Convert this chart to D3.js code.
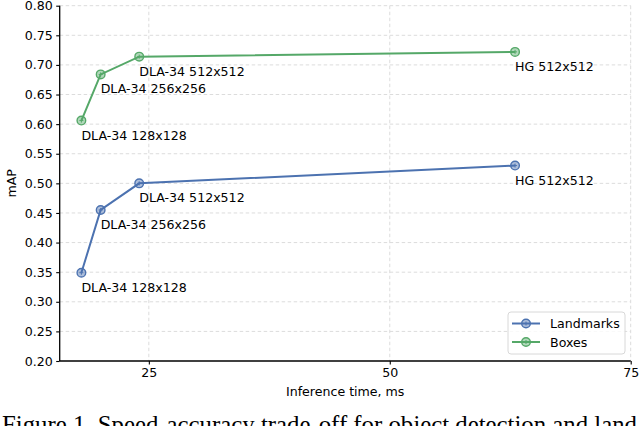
<!DOCTYPE html>
<html>
<head>
<meta charset="utf-8">
<script src="https://cdn.jsdelivr.net/npm/d3@7"></script>
<style>
  html, body { margin: 0; padding: 0; background: #fff; }
  svg { display: block; }
</style>
</head>
<body>
<svg id="chart" width="640" height="426"></svg>
<script>
// ---- data ----
const seriesNames = ["Landmarks", "Boxes"];
const models = ["DLA-34 128x128", "DLA-34 256x256", "DLA-34 512x512", "HG 512x512"];
const inferenceTime = [18, 20, 24, 63];
const landmarksMAP = [0.349, 0.455, 0.500, 0.530];
const boxesMAP = [0.606, 0.684, 0.714, 0.722];
const xTicks = [25, 50, 75];
const yTicks = [0.20, 0.25, 0.30, 0.35, 0.40, 0.45, 0.50, 0.55, 0.60, 0.65, 0.70, 0.75, 0.80];
const colors = ["#4c72b0", "#55a868"];
const caption = "Figure 1. Speed-accuracy trade-off for object detection and land";

(function () {
const svg = d3.select("#chart");
const font = "DejaVu Sans, sans-serif";
const fs = 12.6;

const pL = 59.7, pR = 630.7, pT = 5.7, pB = 361;
const x = d3.scaleLinear().domain([15.75, 75]).range([pL, pR]);
const y = d3.scaleLinear().domain([0.20, 0.80]).range([pB, pT]);

// grid
const grid = svg.append("g");
grid.selectAll("line.h").data(yTicks.filter(d => d > 0.2)).join("line")
  .attr("x1", pL).attr("x2", pR)
  .attr("y1", d => y(d)).attr("y2", d => y(d))
  .attr("stroke", "#dcdcdc").attr("stroke-width", 1).attr("stroke-dasharray", "3.5,2.5");
grid.selectAll("line.v").data(xTicks).join("line")
  .attr("y1", pT).attr("y2", pB)
  .attr("x1", d => x(d)).attr("x2", d => x(d))
  .attr("stroke", "#dcdcdc").attr("stroke-width", 1).attr("stroke-dasharray", "3.5,2.5");

// axes
const xAxis = d3.axisBottom(x).tickValues(xTicks).tickSize(3.5).tickPadding(4).tickFormat(d3.format("d"));
const yAxis = d3.axisLeft(y).tickValues(yTicks).tickSize(3.5).tickPadding(3.5).tickFormat(d3.format(".2f"));

const gx = svg.append("g").attr("transform", `translate(0,${pB})`).call(xAxis);
const gy = svg.append("g").attr("transform", `translate(${pL},0)`).call(yAxis);
[gx, gy].forEach(g => {
  g.select(".domain").attr("stroke", "#000").attr("stroke-width", 1.3);
  g.selectAll(".tick line").attr("stroke", "#000").attr("stroke-width", 1.1);
  g.selectAll(".tick text").attr("font-family", font).attr("font-size", fs).attr("fill", "#000");
});
gx.select(".domain").attr("d", `M${pL},0H${pR}`);
gy.select(".domain").attr("d", `M0,${pT}V${pB}`);

// axis labels
svg.append("text").attr("x", (pL + pR) / 2).attr("y", 396)
  .attr("text-anchor", "middle").attr("font-family", font).attr("font-size", fs)
  .text("Inference time, ms");
svg.append("text").attr("transform", `translate(16,${(pT + pB) / 2}) rotate(-90)`)
  .attr("text-anchor", "middle").attr("font-family", font).attr("font-size", fs)
  .text("mAP");

// series
const series = [landmarksMAP, boxesMAP];
const line = d3.line().x(d => x(d.t)).y(d => y(d.v));

function marker(g, cx, cy, c) {
  g.append("circle").attr("cx", cx).attr("cy", cy).attr("r", 4.3)
    .attr("fill", c).attr("fill-opacity", 0.45).attr("stroke", c).attr("stroke-width", 1.4);
  g.append("path").attr("d", `M${cx - 2},${cy}H${cx + 2}M${cx},${cy - 2}V${cy + 2}`)
    .attr("stroke", c).attr("stroke-width", 1);
}

series.forEach((vals, i) => {
  const pts = vals.map((v, j) => ({ t: inferenceTime[j], v, m: models[j] }));
  const g = svg.append("g");
  g.append("path").datum(pts).attr("d", line)
    .attr("fill", "none").attr("stroke", colors[i]).attr("stroke-width", 2);
  pts.forEach(p => marker(g, x(p.t), y(p.v), colors[i]));
  g.selectAll("text").data(pts).join("text")
    .attr("x", p => x(p.t)).attr("y", p => y(p.v) + 19)
    .attr("font-family", font).attr("font-size", fs).attr("fill", "#000")
    .text(p => p.m);
});

// legend
const lg = svg.append("g");
lg.append("rect").attr("x", 508).attr("y", 312).attr("width", 117).attr("height", 42)
  .attr("rx", 3).attr("fill", "#fff").attr("fill-opacity", 0.8)
  .attr("stroke", "#d8d8d8").attr("stroke-width", 1);
seriesNames.forEach((name, i) => {
  const ly = 323.5 + i * 18.5;
  lg.append("line").attr("x1", 512).attr("x2", 540).attr("y1", ly).attr("y2", ly)
    .attr("stroke", colors[i]).attr("stroke-width", 2);
  marker(lg, 526, ly, colors[i]);
  lg.append("text").attr("x", 550).attr("y", ly).attr("dy", "0.36em")
    .attr("font-family", font).attr("font-size", fs).text(name);
});

// caption (justified line in the source, so slightly wider than natural)
svg.append("text").attr("x", 2).attr("y", 432.5)
  .attr("font-family", "Liberation Serif, Times New Roman, serif").attr("font-size", 24.8)
  .attr("textLength", 635).attr("lengthAdjust", "spacing")
  .attr("fill", "#000").text(caption);
})();
</script>
</body>
</html>
